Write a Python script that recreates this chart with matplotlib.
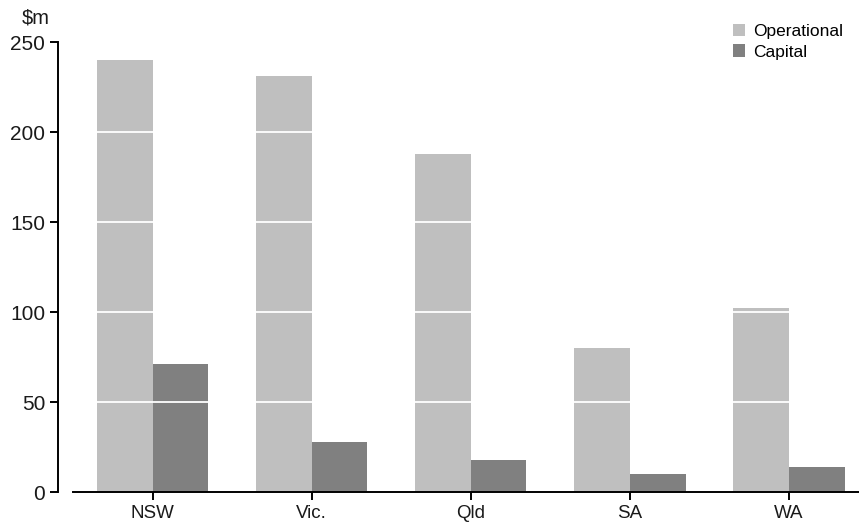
"""Operational vs capital expenditure by state, grouped bars."""

import matplotlib

matplotlib.use("Agg")
import matplotlib.pyplot as plt
import numpy as np

states = ["NSW", "Vic.", "Qld", "SA", "WA"]
operational = [240, 231, 188, 80, 102]
capital = [71, 28, 18, 10, 14]
y_ticks = [0, 50, 100, 150, 200, 250]

OP_COLOUR = "#bfbfbf"
CAP_COLOUR = "#808080"

plt.rcParams["font.family"] = ["Liberation Sans", "DejaVu Sans"]
plt.rcParams["font.size"] = 13

W, H = 859, 522
fig = plt.figure(figsize=(W / 100, H / 100), dpi=100)
ax = fig.add_axes([73 / W, 30 / H, 786 / W, 450 / H])

x = np.arange(len(states))
bw = 0.35
ax.bar(x - bw / 2, operational, bw, color=OP_COLOUR, label="Operational", zorder=2)
ax.bar(x + bw / 2, capital, bw, color=CAP_COLOUR, label="Capital", zorder=2)

# white gridlines only show up where they cross the bars
for yv in y_ticks[1:-1]:
    ax.axhline(yv, color="white", lw=1.3, zorder=3)

ax.set_xlim(-0.5, 4.44)
ax.set_ylim(0, 250)
ax.set_yticks(y_ticks)
ax.set_xticks(x)
ax.set_xticklabels(states)

for s in ("top", "right"):
    ax.spines[s].set_visible(False)
ax.spines["left"].set_position(("outward", 11))
for s in ("left", "bottom"):
    ax.spines[s].set_linewidth(1.4)
    ax.spines[s].set_color("black")
ax.tick_params(axis="both", length=6, width=1.4, colors="black", labelcolor="#1a1a1a")
ax.tick_params(axis="y", pad=3, labelsize=15)
ax.tick_params(axis="x", pad=3, labelsize=13.5)

fig.text(36 / W, 1 - 18 / H, r"\$m", ha="center", va="center", color="#1a1a1a", fontsize=14.5)

ax.legend(
    loc="upper left",
    bbox_to_anchor=(733 / W, 1 - 24 / H),
    bbox_transform=fig.transFigure,
    frameon=False,
    handlelength=0.7,
    handleheight=0.7,
    handletextpad=0.45,
    labelspacing=0.3,
    borderpad=0,
    borderaxespad=0,
    fontsize=12.5,
)

fig.savefig("out.png", dpi=100)
